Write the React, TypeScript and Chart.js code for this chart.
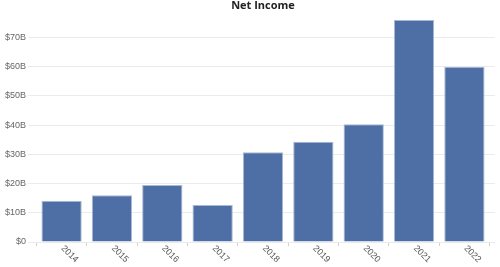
import React, { useEffect, useRef } from "react";
import { Chart, registerables } from "chart.js";

Chart.register(...registerables);

const title = "Net Income";
const years = ["2014", "2015", "2016", "2017", "2018", "2019", "2020", "2021", "2022"];
const netIncome = [14.1, 16.0, 19.5, 12.7, 30.7, 34.3, 40.3, 76.0, 60.0];
const yMax = 76.0;
const yStep = 10;

const EXTRA = 0.215;

const labelPlugin = {
  id: "customText",
  afterDraw(chart: any) {
    const ctx = chart.ctx;
    const area = chart.chartArea;
    const xs = chart.scales.x;
    ctx.save();
    // title
    ctx.font = "bold 11px 'Open Sans'";
    ctx.fillStyle = "#222";
    ctx.textAlign = "center";
    ctx.textBaseline = "alphabetic";
    ctx.fillText(title, (area.left + area.right) / 2, 8.5);
    // x labels rotated clockwise
    ctx.font = "9px 'Liberation Sans'";
    ctx.fillStyle = "#555";
    ctx.textAlign = "left";
    ctx.textBaseline = "middle";
    years.forEach((lab, i) => {
      const px = xs.getPixelForValue(i);
      ctx.save();
      ctx.translate(px + 1, area.bottom + 5);
      ctx.rotate(Math.PI / 4);
      ctx.fillText(lab, 0, 0);
      ctx.restore();
    });
    ctx.restore();
  },
};

export default function App() {
  const ref = useRef<HTMLCanvasElement>(null);
  useEffect(() => {
    if (!ref.current) return;
    const chart = new Chart(ref.current, {
      type: "bar",
      data: {
        labels: years,
        datasets: [
          {
            data: netIncome,
            backgroundColor: "#4E6FA6",
            borderColor: "#A9B9D3",
            borderWidth: 1,
            barPercentage: 0.8,
            categoryPercentage: 1.0,
          },
        ],
      },
      options: {
        animation: false,
        responsive: true,
        maintainAspectRatio: false,
        layout: { padding: { top: 20, right: 5, left: 0, bottom: 0 } },
        plugins: {
          legend: { display: false },
          title: { display: false },
          tooltip: { enabled: false },
        },
        scales: {
          x: {
            type: "category",
            afterBuildTicks: (scale: any) => {
              scale._valueRange = 9 + EXTRA;
              scale._startValue = -0.5 - EXTRA / 2;
            },
            afterFit: (scale: any) => {
              scale.height = 25;
            },
            border: { display: false },
            grid: {
              display: true,
              drawOnChartArea: false,
              drawTicks: true,
              tickLength: 4,
              color: "#d0d0d0",
            },
            ticks: { display: true, color: "rgba(0,0,0,0)", font: { size: 9 }, maxRotation: 0, minRotation: 0 },
          },
          y: {
            min: 0,
            max: yMax,
            afterFit: (scale: any) => {
              scale.width = 31;
            },
            border: { display: false },
            grid: {
              color: "#ebebeb",
              drawTicks: true,
              tickLength: 3,
            },
            ticks: {
              stepSize: yStep,
              includeBounds: false,
              padding: 2,
              color: "#666",
              font: { size: 9, family: "'Liberation Sans'" },
              callback: (v: any) => (v === 0 ? "$0" : "$" + v + "B"),
            },
          },
        },
      },
      plugins: [labelPlugin],
    });
    return () => chart.destroy();
  }, []);
  return (
    <div style={{ position: "fixed", left: 0, top: 0, width: 500, height: 267 }}>
      <canvas ref={ref} />
    </div>
  );
}
